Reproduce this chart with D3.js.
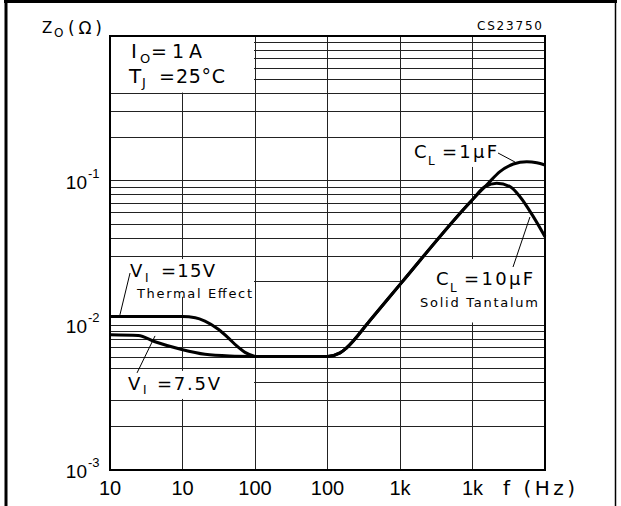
<!DOCTYPE html>
<html>
<head>
<meta charset="utf-8">
<script src="https://cdn.jsdelivr.net/npm/d3@7"></script>
<style>
  body { margin: 0; background: #fff; }
  svg { display: block; }
</style>
</head>
<body>
<div id="chart"></div>
<script>
// tick values and the labels as printed on the sheet
const freqTicks = [10, 100, 1e3, 1e4, 1e5, 1e6];
const freqTickLabels = ["10", "10", "100", "100", "1k", "1k"];
const impTicks = [1e-3, 1e-2, 1e-1];
const impTickExps = ["-3", "-2", "-1"];

// V_I = 15 V (thermal effect), low frequency part
const v15Freq = [10, 100, 150, 204, 312, 428, 560, 728, 1000];
const v15Z = [0.0115, 0.0115, 0.0113, 0.0107, 0.0094, 0.0082, 0.0072, 0.0065, 0.0061];

// V_I = 7.5 V, low frequency part
const v75Freq = [10, 24.5, 41.8, 97.5, 204, 452, 1000];
const v75Z = [0.0086, 0.0085, 0.0077, 0.0068, 0.0063, 0.00614, 0.0061];

// C_L = 1 uF, from 1 kHz up
const cl1Freq = [1000, 10000, 14900, 18400, 38500, 103000, 975000, 1.65e6, 2.39e6, 3.66e6, 5.6e6, 7.7e6, 1e7];
const cl1Z = [0.0061, 0.0061, 0.00645, 0.0070, 0.0108, 0.0195, 0.073, 0.0960, 0.1154, 0.1304, 0.1353, 0.1332, 0.1284];

// C_L = 10 uF solid tantalum, from 1 kHz up
const cl10Freq = [1000, 10000, 14900, 18400, 38500, 103000, 975000, 1.49e6, 2.16e6, 3.29e6, 4.52e6, 6.9e6, 1e7];
const cl10Z = [0.0061, 0.0061, 0.00645, 0.0070, 0.0108, 0.0195, 0.073, 0.0909, 0.0959, 0.0909, 0.0775, 0.0564, 0.0410];

const width = 621, height = 506;
const margin = {top: 36, right: 76, bottom: 36, left: 110};

const svg = d3.select("#chart").append("svg")
    .attr("width", width)
    .attr("height", height);

const x = d3.scaleLog().domain([10, 1e7]).range([margin.left, width - margin.right]);
const y = d3.scaleLog().domain([1e-3, 1]).range([height - margin.bottom, margin.top]);

// outer frame of the sheet
svg.append("line").attr("x1", 4).attr("x2", 617).attr("y1", 1.5).attr("y2", 1.5)
    .attr("stroke", "#000").attr("stroke-width", 3);
svg.append("line").attr("x1", 6).attr("x2", 6).attr("y1", 0).attr("y2", height)
    .attr("stroke", "#000").attr("stroke-width", 3);
svg.append("line").attr("x1", 615.5).attr("x2", 615.5).attr("y1", 0).attr("y2", height)
    .attr("stroke", "#000").attr("stroke-width", 1.5);

// grid
const grid = svg.append("g").attr("stroke", "#222").attr("stroke-width", 1)
    .attr("shape-rendering", "crispEdges");

grid.selectAll("line.v")
    .data(freqTicks.slice(1))
    .enter().append("line")
    .attr("x1", d => x(d)).attr("x2", d => x(d))
    .attr("y1", y(1)).attr("y2", y(1e-3));

const hLines = [];
impTicks.forEach(t => d3.range(1, 10).forEach(m => hLines.push(m * t)));
grid.selectAll("line.h")
    .data(hLines)
    .enter().append("line")
    .attr("x1", x(10)).attr("x2", x(1e7))
    .attr("y1", d => y(d)).attr("y2", d => y(d));

// white boxes behind the annotations (grid is cut there on the sheet)
const masks = [
    {f0: 10, f1: 1000, z0: 1, z1: 0.4},
    {f0: 10, f1: 1000, z0: 0.0292, z1: 0.0155},
    {f0: 10, f1: 1000, z0: 0.00492, z1: 0.00305},
    {f0: 1.17e5, f1: 1e7, z0: 0.194, z1: 0.1224},
    {f0: 1.07e5, f1: 1e7, z0: 0.0292, z1: 0.0103}
];
svg.selectAll("rect.mask")
    .data(masks)
    .enter().append("rect")
    .attr("x", d => x(d.f0) + 1)
    .attr("y", d => y(d.z0) + 1)
    .attr("width", d => x(d.f1) - x(d.f0) - 2)
    .attr("height", d => y(d.z1) - y(d.z0) - 2)
    .attr("fill", "#fff");

// plot border
svg.append("rect")
    .attr("x", x(10)).attr("y", y(1))
    .attr("width", x(1e7) - x(10)).attr("height", y(1e-3) - y(1))
    .attr("fill", "none").attr("stroke", "#000").attr("stroke-width", 2);

// curves
const line = d3.line()
    .x(d => x(d[0]))
    .y(d => y(d[1]))
    .curve(d3.curveMonotoneX);

[[v15Freq, v15Z], [v75Freq, v75Z], [cl1Freq, cl1Z], [cl10Freq, cl10Z]].forEach(([fs, zs]) => {
    svg.append("path")
        .datum(d3.zip(fs, zs))
        .attr("d", line)
        .attr("fill", "none")
        .attr("stroke", "#000")
        .attr("stroke-width", 3)
        .attr("stroke-linejoin", "round");
});

// leader lines from labels to curves
const leaders = [
    [[18.9, 0.0230], [13.7, 0.0118]],
    [[41.8, 0.00845], [23.6, 0.00469]],
    [[2.25e6, 0.1553], [3.85e6, 0.1346]],
    [[3.62e6, 0.0253], [6.2e6, 0.0561]]
];
svg.selectAll("line.leader")
    .data(leaders)
    .enter().append("line")
    .attr("x1", d => x(d[0][0])).attr("y1", d => y(d[0][1]))
    .attr("x2", d => x(d[1][0])).attr("y2", d => y(d[1][1]))
    .attr("stroke", "#000").attr("stroke-width", 1);

// text helpers
const mainFont = "Liberation Sans, Arial, sans-serif";
const wideFont = "DejaVu Sans, sans-serif";

function label(tx, ty, str, size, len, font) {
    const t = svg.append("text")
        .attr("x", tx).attr("y", ty)
        .style("font-family", font || wideFont)
        .style("font-size", size + "px")
        .attr("fill", "#000")
        .text(str);
    if (len) t.attr("textLength", len).attr("lengthAdjust", "spacing");
    return t;
}

// axis titles
label(42, 33, "Z", 15);
label(54, 37, "O", 12);
label(68, 34, "(Ω)", 17, 34);
label(503, 495, "f (Hz)", 20, 72);
label(477, 30, "CS23750", 12, 65);

// x tick labels
svg.selectAll("text.xt")
    .data(freqTicks)
    .enter().append("text")
    .attr("x", d => x(d))
    .attr("y", 495)
    .attr("text-anchor", "middle")
    .style("font-family", mainFont)
    .style("font-size", "20px")
    .text((d, i) => freqTickLabels[i]);

// y tick labels: 10 with exponent
impTicks.forEach((t, i) => {
    label(87, y(t) + 8, "10", 19, null, mainFont).attr("text-anchor", "end");
    label(88, y(t) - 3, impTickExps[i], 13, null, mainFont);
});

// condition box
label(131, 58, "I", 20);
label(140, 63, "O", 13);
label(151, 58, "=1A", 19, 51);
label(129, 83, "T", 20);
label(142, 87, "J", 13);
label(159, 83, "=", 19);
label(176, 83, "25°C", 19, 49);

// V_I labels
label(130, 277, "V", 18);
label(145, 282, "I", 12);
label(161, 277, "=15V", 18, 54);
label(137, 298, "Thermal Effect", 13, 115);

label(128, 390, "V", 18);
label(143, 394, "I", 12);
label(157, 390, "=7.5V", 18, 63);

// C_L labels
label(414, 158, "C", 18);
label(428, 165, "L", 12);
label(442, 158, "=1μF", 18, 55);

label(436, 285, "C", 18);
label(450, 292, "L", 12);
label(464, 285, "=10μF", 18, 69);
label(420, 307, "Solid Tantalum", 13, 118);
</script>
</body>
</html>
